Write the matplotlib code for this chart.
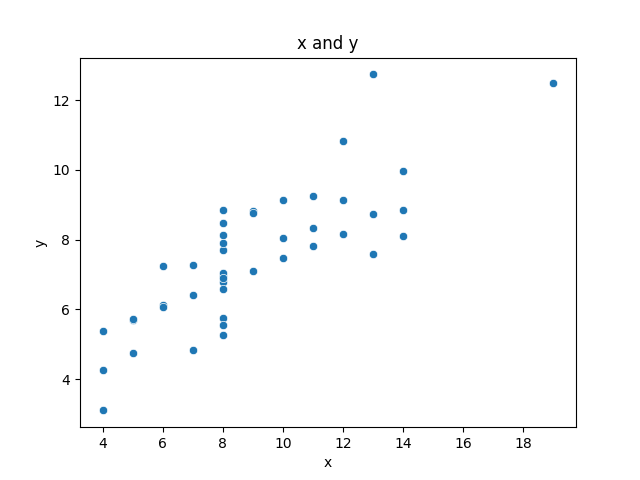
import matplotlib
matplotlib.use("Agg")
import matplotlib.pyplot as plt
import seaborn as sns

# Anscombe's quartet, all four sets pooled together
x1 = [10, 8, 13, 9, 11, 14, 6, 4, 12, 7, 5]
y1 = [8.04, 6.95, 7.58, 8.81, 8.33, 9.96, 7.24, 4.26, 10.84, 4.82, 5.68]
y2 = [9.14, 8.14, 8.74, 8.77, 9.26, 8.10, 6.13, 3.10, 9.13, 7.26, 4.74]
y3 = [7.46, 6.77, 12.74, 7.11, 7.81, 8.84, 6.08, 5.39, 8.15, 6.42, 5.73]
x4 = [8, 8, 8, 8, 8, 8, 8, 19, 8, 8, 8]
y4 = [6.58, 5.76, 7.71, 8.84, 8.47, 7.04, 5.25, 12.50, 5.56, 7.91, 6.89]

x = x1 + x1 + x1 + x4
y = y1 + y2 + y3 + y4

fig, ax = plt.subplots(figsize=(6.4, 4.8), dpi=100)
sns.scatterplot(x=x, y=y, ax=ax)

ax.set_title("x and y")
ax.set_xlabel("x")
ax.set_ylabel("y")

fig.savefig("out.png")
